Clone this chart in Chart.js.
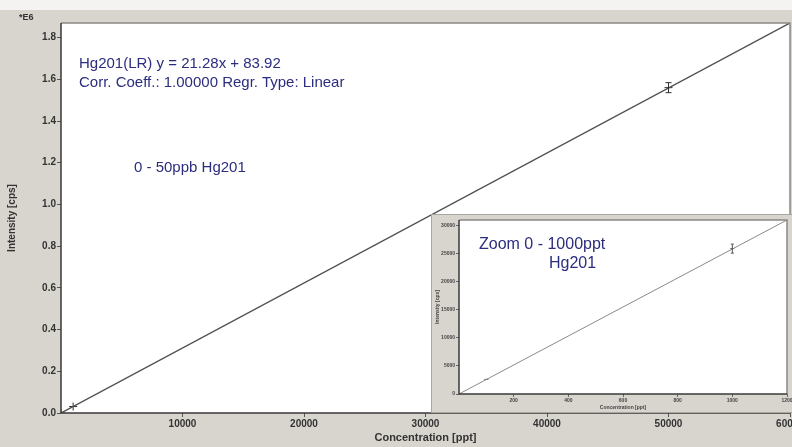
<!DOCTYPE html>
<html>
<head>
<meta charset="utf-8">
<script src="https://cdn.jsdelivr.net/npm/chart.js@4/dist/chart.umd.min.js"></script>
<style>
  html,body{margin:0;padding:0;}
  body{width:792px;height:447px;background:#d8d5cf;position:relative;overflow:hidden;font-family:"Liberation Sans",Arial,sans-serif;}
  #topstrip{position:absolute;left:0;top:0;width:792px;height:10px;background:#f4f3f1;}
  #main{position:absolute;left:0;top:0;}
  #inset{position:absolute;left:431px;top:214px;width:360px;height:197px;background:#d8d5cf;border:1px solid #a9a7a2;}
  .note{position:absolute;color:#2b2d7e;font-size:15px;line-height:15px;white-space:nowrap;}
  .e6{position:absolute;left:19px;top:12px;font-size:9px;font-weight:bold;color:#333;}
</style>
</head>
<body>
<div id="topstrip"></div>
<canvas id="main" width="795" height="447"></canvas>
<div class="e6">*E6</div>
<div class="note" style="left:79px;top:55px;">Hg201(LR) y = 21.28x + 83.92</div>
<div class="note" style="left:79px;top:74px;">Corr. Coeff.: 1.00000 Regr. Type: Linear</div>
<div class="note" style="left:134px;top:159px;">0 - 50ppb Hg201</div>
<div id="inset">
  <canvas id="zoom" width="360" height="197"></canvas>
  <div class="note" style="left:47px;top:21px;font-size:16px;">Zoom 0 - 1000ppt</div>
  <div class="note" style="left:117px;top:40px;font-size:16px;">Hg201</div>
</div>
<script>
// ---- main calibration data ----
const fitLineX = [0, 60000];
const fitLineY = [0, 1870000];
const stdConc = [0, 1000, 50000];
const stdIntensity = [0, 31000, 1560000];
const errConc = [50000];
const errLow = [1536000];
const errHigh = [1584000];
const xTickValues = [10000, 20000, 30000, 40000, 50000, 60000];
const yTickValues = [0, 200000, 400000, 600000, 800000, 1000000, 1200000, 1400000, 1600000, 1800000];

// ---- zoom inset data ----
const zFitX = [0, 1200];
const zFitY = [0, 31000];
const zStdConc = [0, 100, 1000];
const zStdIntensity = [0, 2600, 25900];
const zErrConc = [1000];
const zErrLow = [25100];
const zErrHigh = [26700];
const zXTickValues = [200, 400, 600, 800, 1000, 1200];
const zYTickValues = [0, 5000, 10000, 15000, 20000, 25000, 30000];

function pts(xs, ys){ return xs.map((x,i)=>({x:x,y:ys[i]})); }

function framePlugin(id){
  return {
    id: id,
    beforeDraw(chart){
      const a = chart.chartArea, c = chart.ctx;
      c.save(); c.fillStyle = '#ffffff';
      c.fillRect(a.left, a.top, a.right-a.left, a.bottom-a.top);
      c.restore();
    },
    afterDraw(chart){
      const a = chart.chartArea, c = chart.ctx;
      c.save();
      c.strokeStyle = '#8a8884'; c.lineWidth = 1.5;
      c.beginPath(); c.moveTo(a.left, a.top); c.lineTo(a.right, a.top); c.lineTo(a.right, a.bottom); c.stroke();
      c.strokeStyle = '#3a3a3a'; c.lineWidth = 1.5;
      c.beginPath(); c.moveTo(a.left, a.top); c.lineTo(a.left, a.bottom); c.lineTo(a.right, a.bottom); c.stroke();
      c.restore();
    }
  };
}

function errPlugin(id, xs, lo, hi, cap, color){
  return {
    id: id,
    afterDatasetsDraw(chart){
      const sx = chart.scales.x, sy = chart.scales.y, c = chart.ctx;
      c.save(); c.strokeStyle = color; c.lineWidth = 1;
      xs.forEach((x,i)=>{
        const px = sx.getPixelForValue(x);
        const p1 = sy.getPixelForValue(lo[i]), p2 = sy.getPixelForValue(hi[i]);
        c.beginPath();
        c.moveTo(px, p1); c.lineTo(px, p2);
        c.moveTo(px-cap, p1); c.lineTo(px+cap, p1);
        c.moveTo(px-cap, p2); c.lineTo(px+cap, p2);
        c.stroke();
      });
      c.restore();
    }
  };
}

function filterTicks(values){
  return function(scale){ scale.ticks = values.map(v=>({value:v})); };
}

new Chart(document.getElementById('main'), {
  type: 'scatter',
  data: {
    datasets: [
      { type:'line', data: pts(fitLineX, fitLineY), borderColor:'#505050', borderWidth:1.4, pointRadius:0, fill:false, tension:0 },
      { data: pts(stdConc, stdIntensity), pointStyle:'cross', pointRadius:4, borderColor:'#303030', borderWidth:1, backgroundColor:'#303030' }
    ]
  },
  options: {
    responsive:false, animation:false, devicePixelRatio:1,
    layout:{ padding:{ left:6, top:23, right:0, bottom:2 } },
    plugins:{ legend:{display:false}, tooltip:{enabled:false} },
    scales:{
      x:{
        type:'linear', min:0, max:60000,
        afterBuildTicks: filterTicks(xTickValues),
        afterFit(s){ s.paddingLeft = 0; s.paddingRight = 0; s.height = 32; },
        border:{display:false},
        grid:{ drawOnChartArea:false, tickLength:4, color:'#555' },
        ticks:{ color:'#333', font:{family:'Liberation Sans', size:10, weight:'bold'}, padding:1, maxRotation:0, autoSkip:false,
          callback:(v)=> String(v) },
        title:{ display:true, text:'Concentration [ppt]', color:'#333', font:{family:'Liberation Sans', size:11, weight:'bold'}, padding:{top:0,bottom:0} }
      },
      y:{
        type:'linear', min:0, max:1870000,
        afterBuildTicks: filterTicks(yTickValues),
        afterFit(s){ s.width = 55; s.paddingTop = 0; s.paddingBottom = 0; },
        border:{display:false},
        grid:{ drawOnChartArea:false, tickLength:4, color:'#555' },
        ticks:{ color:'#333', font:{family:'Liberation Sans', size:10, weight:'bold'}, padding:1, autoSkip:false,
          callback:(v)=> (v/1e6).toFixed(1) },
        title:{ display:true, text:'Intensity [cps]', color:'#333', font:{family:'Liberation Sans', size:10, weight:'bold'}, padding:{top:0,bottom:0} }
      }
    }
  },
  plugins:[ framePlugin('mainFrame'), errPlugin('mainErr', errConc, errLow, errHigh, 3, '#303030') ]
});

new Chart(document.getElementById('zoom'), {
  type: 'scatter',
  data: {
    datasets: [
      { type:'line', data: pts(zFitX, zFitY), borderColor:'#8a8a8a', borderWidth:1, pointRadius:0, fill:false, tension:0 },
      { data: pts(zStdConc, zStdIntensity), pointStyle:'line', pointRadius:2, borderColor:'#555', borderWidth:1 }
    ]
  },
  options: {
    responsive:false, animation:false, devicePixelRatio:1,
    layout:{ padding:{ left:3, top:5, right:3, bottom:1 } },
    plugins:{ legend:{display:false}, tooltip:{enabled:false} },
    scales:{
      x:{
        type:'linear', min:0, max:1200,
        afterBuildTicks: filterTicks(zXTickValues),
        afterFit(s){ s.paddingLeft = 0; s.paddingRight = 0; s.height = 17; },
        border:{display:false},
        grid:{ drawOnChartArea:false, tickLength:3, color:'#666' },
        ticks:{ color:'#444', font:{family:'Liberation Sans', size:5, weight:'bold'}, padding:1, maxRotation:0, autoSkip:false,
          callback:(v)=> String(v) },
        title:{ display:true, text:'Concentration [ppt]', color:'#444', font:{family:'Liberation Sans', size:5, weight:'bold'}, padding:{top:0,bottom:0} }
      },
      y:{
        type:'linear', min:0, max:31000,
        afterBuildTicks: filterTicks(zYTickValues),
        afterFit(s){ s.width = 24; s.paddingTop = 0; s.paddingBottom = 0; },
        border:{display:false},
        grid:{ drawOnChartArea:false, tickLength:3, color:'#666' },
        ticks:{ color:'#444', font:{family:'Liberation Sans', size:5, weight:'bold'}, padding:1, autoSkip:false,
          callback:(v)=> String(v) },
        title:{ display:true, text:'Intensity [cps]', color:'#444', font:{family:'Liberation Sans', size:5, weight:'bold'}, padding:{top:0,bottom:0} }
      }
    }
  },
  plugins:[ framePlugin('zoomFrame'), errPlugin('zoomErr', zErrConc, zErrLow, zErrHigh, 1.5, '#555') ]
});
</script>
</body>
</html>
